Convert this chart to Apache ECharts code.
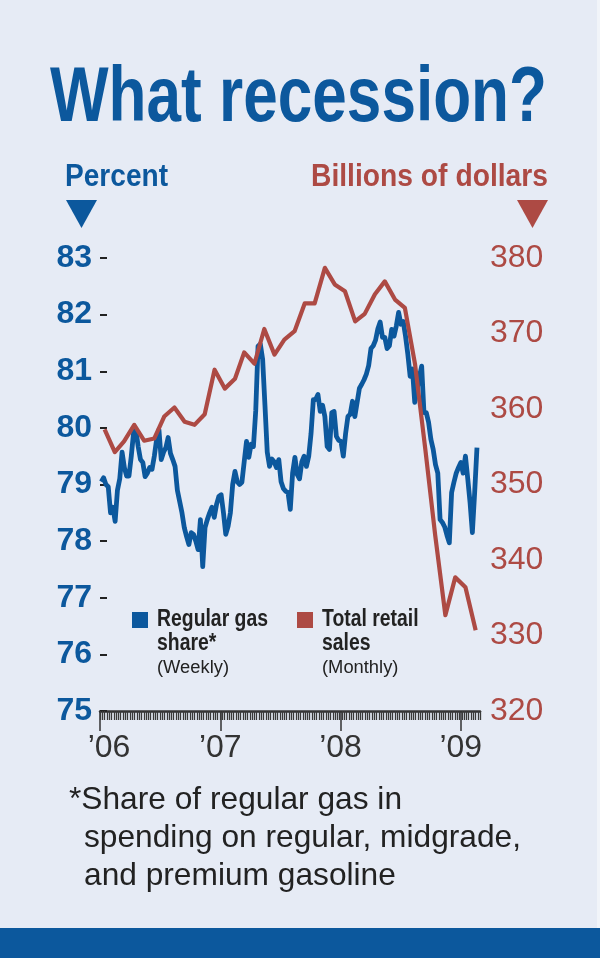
<!DOCTYPE html>
<html>
<head>
<meta charset="utf-8">
<script src="https://cdn.jsdelivr.net/npm/echarts@6/dist/echarts.min.js"></script>
<style>
html,body{margin:0;padding:0;background:#E6EBF5;}
#c{width:600px;height:958px;}
</style>
</head>
<body>
<div id="c"></div>
<script>
// ---------- DATA ----------
const yearTickLabels = ['\u201906', '\u201907', '\u201908', '\u201909'];
const yearTickValues = [0, 1, 2, 3];            // years since Jan 1, 2006
const weeklyStartDate = '2006-01-05';           // first weekly observation
const gasShare = [
  79.05, 79.12, 79.0, 78.96, 78.5, 78.6, 78.35, 78.9, 79.1, 79.57,
  79.3, 79.15, 79.15, 79.5, 79.92, 79.97, 79.67, 79.44, 79.39, 79.14,
  79.2, 79.3, 79.27, 79.5, 79.8, 79.97, 79.44, 79.57, 79.65, 79.83,
  79.55, 79.44, 79.32, 78.9, 78.7, 78.5, 78.24, 78.08, 77.94, 78.15,
  78.12, 78.0, 77.85, 78.38, 77.55, 78.24, 78.38, 78.5, 78.6, 78.42,
  78.65, 78.79, 78.82, 78.5, 78.12, 78.26, 78.5, 79.0, 79.23, 79.05,
  79.0, 79.04, 79.4, 79.76, 79.48, 79.71, 79.67, 80.3, 81.44, 81.48,
  81.21, 80.4, 79.57, 79.32, 79.45, 79.4, 79.3, 79.44, 79.05, 78.93,
  78.88, 78.86, 78.56, 79.2, 79.48, 79.18, 79.1, 79.4, 79.5, 79.32,
  79.5, 79.9, 80.5, 80.5, 80.59, 80.29, 80.4, 80.2, 79.67, 79.62,
  80.27, 80.29, 79.85, 79.78, 79.76, 79.5, 79.9, 80.2, 80.24, 80.47,
  80.2, 80.45, 80.7, 80.77, 80.85, 80.95, 81.1, 81.4, 81.45, 81.55,
  81.75, 81.87, 81.6, 81.6, 81.4, 81.45, 81.74, 81.62, 81.8, 82.04,
  81.83, 81.88, 81.62, 81.3, 80.91, 81.04, 80.45, 80.68, 80.9, 81.09,
  80.27, 80.27, 80.1, 79.8, 79.62, 79.35, 79.2, 78.38, 78.33, 78.25,
  78.1, 77.97, 78.86, 79.04, 79.2, 79.3, 79.39, 79.2, 79.5, 79.1,
  78.68, 78.15, 78.86, 79.65
];
const retailStartMonth = '2006-01';             // first monthly observation
const retailSales = [
  357.3, 354.3, 355.7, 357.9, 355.8, 356.1, 359.0, 360.2, 358.3, 357.9, 359.3, 365.2,
  362.7, 364.0, 367.5, 366.0, 370.6, 367.2, 369.2, 370.3, 374.0, 374.0, 378.7, 376.5,
  375.6, 371.6, 372.6, 375.2, 376.9, 374.5, 373.4, 365.9, 354.7, 343.3, 332.7, 337.7,
  336.4, 330.7
];
const leftAxisRange = [75, 83, 1];
const rightAxisRange = [320, 380, 10];

// ---------- HELPERS ----------
const BLUE = '#0C589D';
const RED = '#AD4A44';
const DARK = '#222222';
const DAY = 86400000;
const ORIGIN = Date.UTC(2006, 0, 1);
const toYears = ms => (ms - ORIGIN) / (365.25 * DAY);
const weekStart = Date.parse(weeklyStartDate + 'T00:00:00Z');
const gasData = gasShare.map((v, i) => [toYears(weekStart + i * 7 * DAY), v]);
const [ry, rm] = retailStartMonth.split('-').map(Number);
const retailData = retailSales.map((v, i) => [toYears(Date.UTC(ry, rm - 1 + i, 15)), v]);
const XMAX = 3.16;

const mctx = document.createElement('canvas').getContext('2d');
function fit(text, font, width) { mctx.font = font; return width / mctx.measureText(text).width; }

const F = '"Liberation Sans", Arial, sans-serif';
const fTitle = 'bold 78px ' + F;
const fHead = 'bold 31px ' + F;
const fLeg = 'bold 23px ' + F;
const fLegSub = '18px ' + F;
const fNote = '32px ' + F;

const sTitle = fit('What recession?', fTitle, 497);
const sPct = fit('Percent', fHead, 103);
const sBil = fit('Billions of dollars', fHead, 237);
const sLeg = fit('Regular gas', fLeg, 111);
const sLegSub = fit('(Weekly)', fLegSub, 72);
const sNote = fit('spending on regular, midgrade,', fNote, 437);

function txt(text, x, y, font, fill, scaleX, align) {
  return {
    type: 'text', x: x, y: y, scaleX: scaleX || 1, silent: true,
    style: {
      text: text, font: font, fill: fill,
      align: align || 'left', verticalAlign: 'middle',
      textAlign: align || 'left', textVerticalAlign: 'middle'
    }
  };
}

// ---------- CHART ----------
const chart = echarts.init(document.getElementById('c'), null, { renderer: 'canvas' });
chart.setOption({
  backgroundColor: '#E6EBF5',
  animation: false,
  grid: { left: 100, right: 120, top: 258, bottom: 247, containLabel: false },
  xAxis: [
    {
      type: 'value', min: 0, max: XMAX, interval: 1, position: 'bottom',
      axisLine: { show: true, lineStyle: { color: '#333', width: 2.5 } },
      axisTick: { show: true, length: 20, customValues: yearTickValues, lineStyle: { color: '#333', width: 1.5 } },
      axisLabel: {
        show: true, customValues: yearTickValues, margin: 21,
        fontSize: 32, fontFamily: F, color: '#333',
        formatter: v => {
          const i = yearTickValues.indexOf(Math.round(v));
          if (i < 0 || Math.abs(v - Math.round(v)) > 1e-6) return '';
          return i === 0 ? '{a|' + yearTickLabels[i] + '}' : yearTickLabels[i];
        },
        rich: { a: { fontSize: 32, fontFamily: F, color: '#333', padding: [0, 0, 0, 18] } }
      },
      splitLine: { show: false }
    },
    {
      type: 'value', min: 0, max: XMAX, interval: 7 / 365.25, position: 'bottom',
      axisLine: { show: false },
      axisTick: { show: true, length: 9, lineStyle: { color: '#3a3a3a', width: 1.3 } },
      axisLabel: { show: false },
      splitLine: { show: false }
    }
  ],
  yAxis: [
    {
      type: 'value', min: leftAxisRange[0], max: leftAxisRange[1], interval: leftAxisRange[2], position: 'left',
      axisLine: { show: false },
      axisTick: { show: true, inside: true, length: 7, lineStyle: { color: DARK, width: 2 } },
      axisLabel: { margin: 8, fontSize: 32, fontWeight: 'bold', fontFamily: F, color: BLUE },
      splitLine: { show: false }
    },
    {
      type: 'value', min: rightAxisRange[0], max: rightAxisRange[1], interval: rightAxisRange[2], position: 'right',
      axisLine: { show: false },
      axisTick: { show: false },
      axisLabel: { margin: 10, fontSize: 32, fontFamily: F, color: RED },
      splitLine: { show: false }
    }
  ],
  series: [
    {
      name: 'Regular gas share', type: 'line', xAxisIndex: 0, yAxisIndex: 0,
      data: gasData, showSymbol: false, symbol: 'none', z: 2,
      lineStyle: { color: BLUE, width: 4.8, join: 'round' }
    },
    {
      name: 'Total retail sales', type: 'line', xAxisIndex: 0, yAxisIndex: 1,
      data: retailData, showSymbol: false, symbol: 'none', z: 3,
      lineStyle: { color: RED, width: 4.2, join: 'round' }
    }
  ],
  graphic: [
    txt('What recession?', 50, 99, fTitle, BLUE, sTitle),
    txt('Percent', 65, 177, fHead, BLUE, sPct),
    txt('Billions of dollars', 548, 177, fHead, RED, sBil, 'right'),
    { type: 'polygon', silent: true, shape: { points: [[66, 200], [97, 200], [81.5, 228]] }, style: { fill: BLUE } },
    { type: 'polygon', silent: true, shape: { points: [[517, 200], [548, 200], [532.5, 228]] }, style: { fill: RED } },
    { type: 'rect', silent: true, shape: { x: 132, y: 612, width: 16, height: 16 }, style: { fill: BLUE } },
    txt('Regular gas', 157, 620, fLeg, DARK, sLeg),
    txt('share*', 157, 643.5, fLeg, DARK, sLeg),
    txt('(Weekly)', 157, 668, fLegSub, DARK, sLegSub),
    { type: 'rect', silent: true, shape: { x: 297, y: 612, width: 16, height: 16 }, style: { fill: RED } },
    txt('Total retail', 322, 620, fLeg, DARK, sLeg),
    txt('sales', 322, 643.5, fLeg, DARK, sLeg),
    txt('(Monthly)', 322, 668, fLegSub, DARK, sLegSub),
    txt('*Share of regular gas in', 69, 800, fNote, DARK, sNote),
    txt('spending on regular, midgrade,', 84, 838, fNote, DARK, sNote),
    txt('and premium gasoline', 84, 876, fNote, DARK, sNote),
    { type: 'rect', silent: true, shape: { x: 0, y: 928, width: 600, height: 30 }, style: { fill: BLUE } },
    { type: 'rect', silent: true, shape: { x: 597, y: 0, width: 3, height: 928 }, style: { fill: '#F1F4F9' } }
  ]
});
</script>
</body>
</html>
